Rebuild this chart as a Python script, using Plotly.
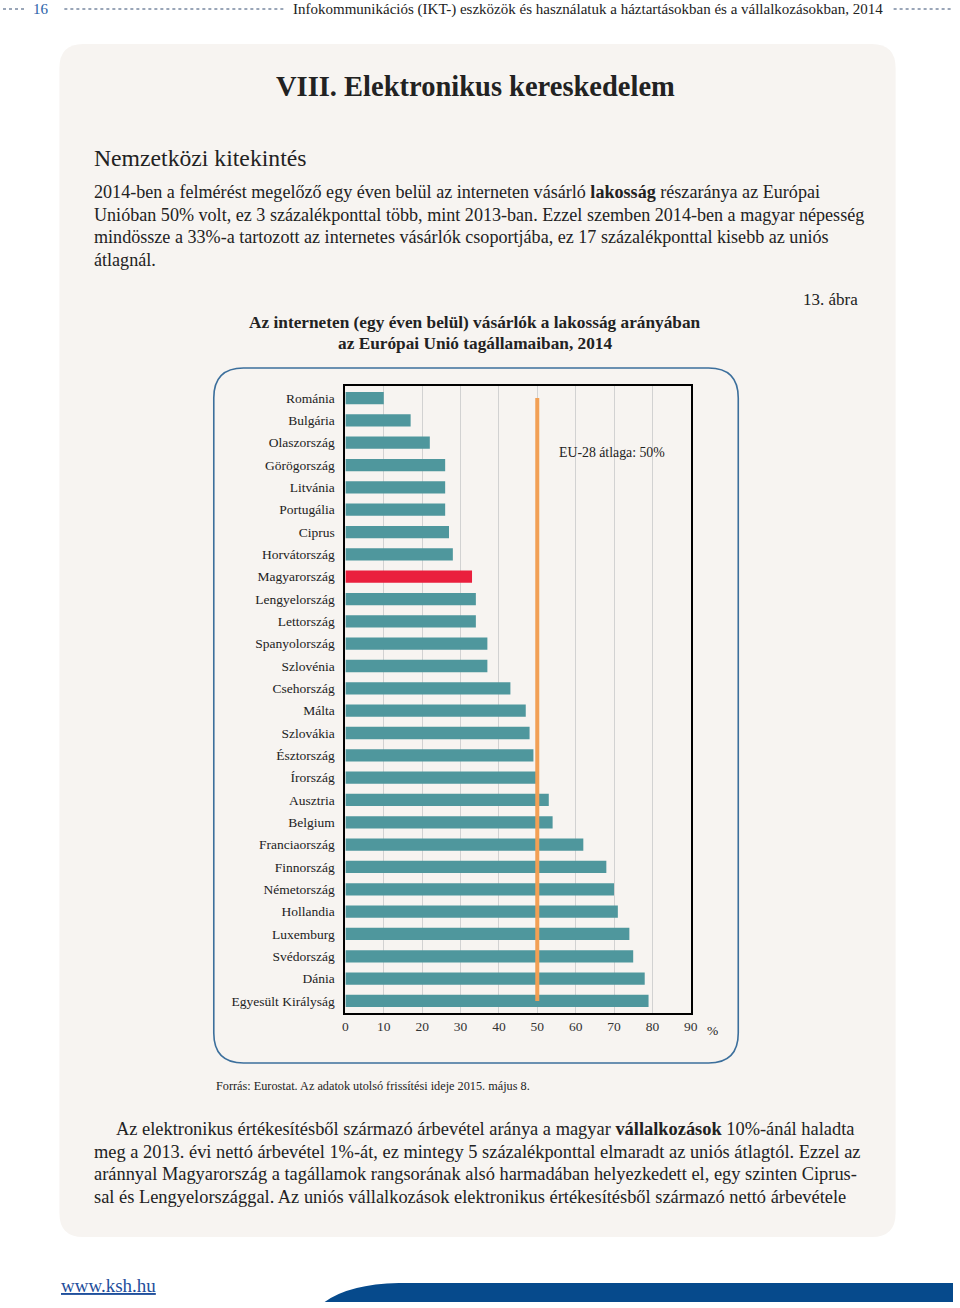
import plotly.graph_objects as go

W, H = 960, 1308

countries = ["Románia", "Bulgária", "Olaszország", "Görögország", "Litvánia", "Portugália",
             "Ciprus", "Horvátország", "Magyarország", "Lengyelország", "Lettország",
             "Spanyolország", "Szlovénia", "Csehország", "Málta", "Szlovákia", "Észtország",
             "Írország", "Ausztria", "Belgium", "Franciaország", "Finnország", "Németország",
             "Hollandia", "Luxemburg", "Svédország", "Dánia", "Egyesült Királyság"]
values = [10, 17, 22, 26, 26, 26, 27, 28, 33, 34, 34, 37, 37, 43, 47, 48, 49, 50,
          53, 54, 62, 68, 70, 71, 74, 75, 78, 79]
eu_avg = 50
highlight = "Magyarország"
x_ticks = [0, 10, 20, 30, 40, 50, 60, 70, 80, 90]

TEAL = "#4f979d"
RED = "#ea1f3d"
ORANGE = "#f2a055"
PANEL = "#f7f4f1"
SERIF = "Liberation Serif, Times New Roman, serif"


def px(x):
    return x / W


def py(y):
    return 1 - y / H


def rrect(x0, y0, x1, y1, r):
    rx, ry = r / W, r / H
    X0, X1 = px(x0), px(x1)
    Y0, Y1 = py(y0), py(y1)  # Y0 top (larger), Y1 bottom
    return (f"M {X0+rx},{Y0} L {X1-rx},{Y0} Q {X1},{Y0} {X1},{Y0-ry} "
            f"L {X1},{Y1+ry} Q {X1},{Y1} {X1-rx},{Y1} L {X0+rx},{Y1} "
            f"Q {X0},{Y1} {X0},{Y1+ry} L {X0},{Y0-ry} Q {X0},{Y0} {X0+rx},{Y0} Z")


colors = [RED if c == highlight else TEAL for c in countries]

fig = go.Figure()
fig.add_trace(go.Bar(x=values, y=countries, orientation="h", marker_color=colors,
                     marker_line_width=0, width=0.55, showlegend=False, hoverinfo="x+y"))
fig.add_trace(go.Scatter(x=[eu_avg, eu_avg], y=[countries[0], countries[-1]], mode="lines",
                         line=dict(color=ORANGE, width=4), showlegend=False, hoverinfo="skip"))

shapes = [
    dict(type="path", xref="paper", yref="paper", path=rrect(57, 44, 902, 1237, 24),
         fillcolor=PANEL, line=dict(width=0), layer="below"),
    dict(type="path", xref="paper", yref="paper", path=rrect(213, 368, 743, 1063, 30),
         fillcolor=PANEL, line=dict(color="#3c6f9c", width=1.6), layer="below"),
    # header dotted lines
    dict(type="line", xref="paper", yref="paper", x0=px(0), x1=px(22), y0=py(9), y1=py(9),
         line=dict(color="#9aa6b8", width=2, dash="dot")),
    dict(type="line", xref="paper", yref="paper", x0=px(62), x1=px(286), y0=py(9), y1=py(9),
         line=dict(color="#9aa6b8", width=2, dash="dot")),
    dict(type="line", xref="paper", yref="paper", x0=px(900), x1=px(958), y0=py(9), y1=py(9),
         line=dict(color="#9aa6b8", width=2, dash="dot")),
    # footer swoosh
    dict(type="path", xref="paper", yref="paper",
         path=(f"M {px(325)},{py(1302)} Q {px(350)},{py(1284)} {px(400)},{py(1283)} "
               f"L {px(960)},{py(1283)} L {px(960)},{py(1302)} Z"),
         fillcolor="#064a8c", line=dict(width=0)),
]

ann = []


def text(x, y, s, size, anchor="left", color="#222222", family=SERIF, yanchor="middle"):
    ann.append(dict(x=px(x), y=py(y), xref="paper", yref="paper", text=s, showarrow=False,
                    xanchor=anchor, yanchor=yanchor, font=dict(size=size, color=color, family=family)))


text(28, 9, "16", 15, anchor="left", color="#2a62a8")
text(291, 9, "Infokommunikációs (IKT-) eszközök és használatuk a háztartásokban és a vállalkozásokban, 2014", 15)
text(477, 86, "<b>VIII. Elektronikus kereskedelem</b>", 28.5, anchor="center")
text(90, 158, "Nemzetközi kitekintés", 23.7)

top_lines = [
    "2014-ben a felmérést megelőző egy éven belül az interneten vásárló <b>lakosság</b> részaránya az Európai",
    "Unióban 50% volt, ez 3 százalékponttal több, mint 2013-ban. Ezzel szemben 2014-ben a magyar népesség",
    "mindössze a 33%-a tartozott az internetes vásárlók csoportjába, ez 17 százalékponttal kisebb az uniós",
    "átlagnál.",
]
for i, s in enumerate(top_lines):
    text(90, 192 + i * 22.7, s, 18.1)

text(866, 300, "13. ábra", 17, anchor="right")
text(477, 322, "<b>Az interneten (egy éven belül) vásárlók a lakosság arányában</b>", 17.3, anchor="center")
text(477, 343, "<b>az Európai Unió tagállamaiban, 2014</b>", 17.3, anchor="center")

text(615, 452, "EU-28 átlaga: 50%", 13.8, anchor="center")
text(717, 1030, "%", 13.5, anchor="center")

text(213, 1086, "Forrás: Eurostat. Az adatok utolsó frissítési ideje 2015. május 8.", 12.25)

bottom_lines = [
    "Az elektronikus értékesítésből származó árbevétel aránya a magyar <b>vállalkozások</b> 10%-ánál haladta",
    "meg a 2013. évi nettó árbevétel 1%-át, ez mintegy 5 százalékponttal elmaradt az uniós átlagtól. Ezzel az",
    "aránnyal Magyarország a tagállamok rangsorának alsó harmadában helyezkedett el, egy szinten Ciprus-",
    "sal és Lengyelországgal. Az uniós vállalkozások elektronikus értékesítésből származó nettó árbevétele",
]
for i, s in enumerate(bottom_lines):
    text(112 if i == 0 else 90, 1129 + i * 22.7, s, 18.4)

text(57, 1285, "<u>www.ksh.hu</u>", 19, color="#1f4f9c")

fig.update_layout(
    width=W, height=H,
    margin=dict(l=0, r=0, t=0, b=0),
    paper_bgcolor="white",
    plot_bgcolor=PANEL,
    shapes=shapes,
    annotations=ann,
    bargap=0.45,
    xaxis=dict(domain=[px(346), px(695)], range=[0, 90], tickvals=x_ticks,
               showgrid=True, gridcolor="#d2d2d2", gridwidth=1.2,
               showline=True, mirror=True, linecolor="black", linewidth=2,
               ticks="", zeroline=False,
               tickfont=dict(family=SERIF, size=13.5, color="#333333")),
    yaxis=dict(domain=[py(1013), py(386)], range=[len(countries) - 0.46, -0.54],
               type="category", showgrid=False, showline=True, mirror=True,
               linecolor="black", linewidth=2, ticks="", ticklabelstandoff=6,
               tickfont=dict(family=SERIF, size=13.5, color="#222222")),
)

fig.write_html("out.html",
               config={"displayModeBar": False},
               post_script=("document.body.style.margin='0';"
                            "document.body.style.overflow='hidden';"
                            "document.documentElement.style.overflow='hidden';"))
